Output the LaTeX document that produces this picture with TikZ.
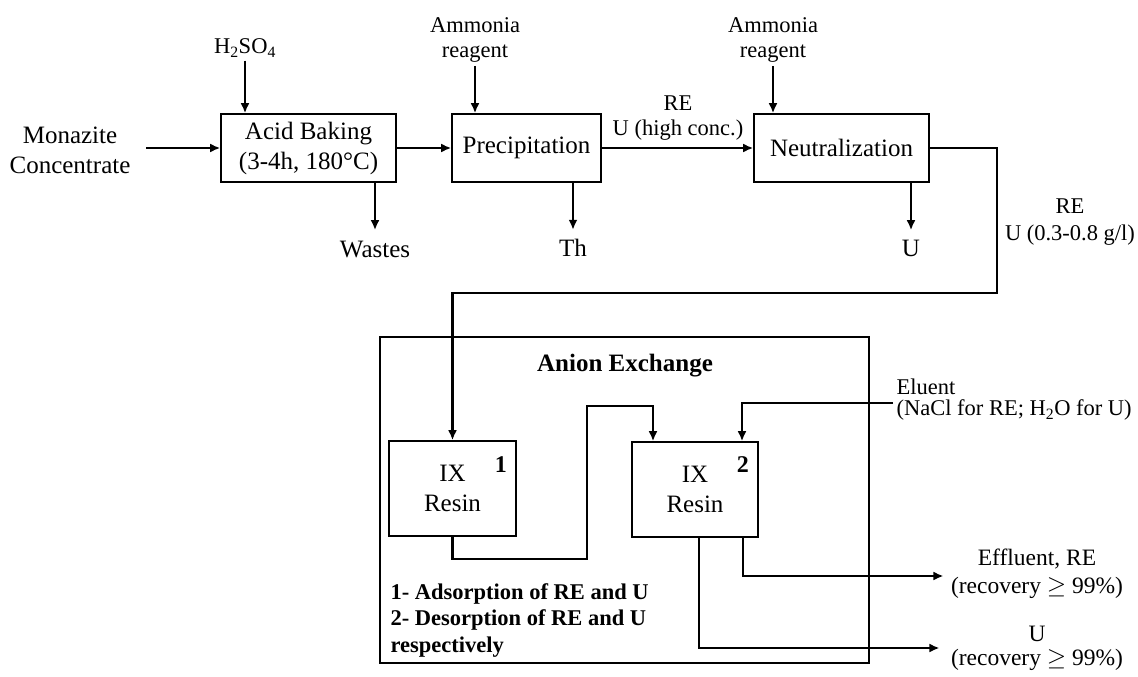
\documentclass[tikz,border=0pt]{standalone}
\usepackage{xcolor}
\usepackage{tikz}
\usepackage{fontspec}
\setmainfont{Liberation Serif}
\usetikzlibrary{shapes,arrows.meta,positioning,calc}

\begin{document}
\begin{tikzpicture}[x=1pt,y=-1pt,font=\fontsize{25}{30}\selectfont]
        % Define styles
        \tikzstyle{unit} = [rectangle, draw=black, line width=1.6pt, minimum height=68pt, text centered, align=center, inner sep=2pt]
        \tikzstyle{resin} = [rectangle, draw=black, line width=1.6pt, minimum width=126pt, minimum height=95pt, align=center]
        \tikzstyle{feed} = [align=center, font=\fontsize{22.5}{25}\selectfont]
        \tikzstyle{arrow} = [line width=2.1pt,-{Latex[length=10pt,width=9pt]}]

        \useasboundingbox (0,0) rectangle (1138,677);

        % Main line
        \node (acid) [unit, minimum width=175pt] at (308.5,148) {Acid Baking\\(3-4h, 180\textdegree C)};
        \node (prec) [unit, minimum width=149pt] at (526.5,148) {Precipitation};
        \node (neut) [unit, minimum width=175pt] at (841.5,148) {Neutralization};

        \node (monazite) [align=center] at (70,150) {Monazite\\Concentrate};
        \node (acidin) [feed] at (245,48) {H\textsubscript{2}SO\textsubscript{4}};
        \node (ammprec) [feed] at (475,40) {Ammonia\\reagent};
        \node (ammneut) [feed] at (773,40) {Ammonia\\reagent};
        \node (wastes) at (375,250) {Wastes};
        \node (th) at (573,248) {Th};
        \node (uneut) at (911,248) {U};
        \node (highconc) [feed] at (678,118) {RE\\U (high conc.)};
        \node (lowconc) [feed, font=\fontsize{22.5}{27}\selectfont] at (1070,222) {RE\\U (0.3-0.8 g/l)};

        \coordinate (monout) at (146,148);
        \draw[arrow] (monout) -- (acid.west);
        \draw[arrow] (acidin.south) -- (acidin |- acid.north);
        \draw[arrow] (ammprec.south) -- (ammprec |- prec.north);
        \draw[arrow] (ammneut.south) -- (ammneut |- neut.north);
        \draw[arrow] (wastes |- acid.south) -- ([yshift=8pt]wastes.north);
        \draw[arrow] (th |- prec.south) -- ([yshift=6pt]th.north);
        \draw[arrow] (uneut |- neut.south) -- ([yshift=6pt]uneut.north);
        \draw[arrow] (acid) -- (prec);
        \draw[arrow] (prec.east) -- (neut.west);

        % Anion exchange
        \node (anion) [rectangle, draw=black, line width=1.3pt, minimum width=489pt, minimum height=326pt] at (624.5,500) {};
        \node (aniontitle) [font=\fontsize{25}{30}\selectfont\bfseries] at (625,366) {Anion Exchange};
        \node (resin1) [resin, minimum width=127pt] at (452.5,488.5) {IX\\Resin};
        \node (resin2) [resin] at (695,489.5) {IX\\Resin};
        \node (tag1) [font=\fontsize{24}{28}\selectfont\bfseries] at ([xshift=-16pt,yshift=-24pt]resin1.north east) {1};
        \node (tag2) [font=\fontsize{24}{28}\selectfont\bfseries] at ([xshift=-16pt,yshift=-23pt]resin2.north east) {2};
        \node (legend) [anchor=north west, align=left, font=\fontsize{22.5}{26.5}\selectfont\bfseries] at (387,580) {1- Adsorption of RE and U\\2- Desorption of RE and U\\respectively};

        \node (eluent) [anchor=west, align=left, font=\fontsize{22.5}{21}\selectfont] at (893,400) {Eluent\\(NaCl for RE; H\textsubscript{2}O for U)};
        \node (effluent) [align=center, font=\fontsize{23.5}{28}\selectfont] at (1037,574) {Effluent, RE\\(recovery $\geq$ 99\%)};
        \node (uout) [align=center, font=\fontsize{23.5}{24}\selectfont] at (1037,648) {U\\(recovery $\geq$ 99\%)};

        \coordinate (turn) at (997,293);
        \coordinate (dip) at (587,559);
        \coordinate (hop) at (587,406);
        \coordinate (elu) at (893,403);

        \draw[arrow] (neut.east) -| (turn) -| (resin1.north);
        \draw[arrow] (resin1.south) |- (dip) -- (hop) -| ([xshift=-42pt]resin2.north);
        \draw[arrow] (elu) -| ([xshift=47pt]resin2.north);
        \draw[arrow] ([xshift=48pt]resin2.south) |- ([xshift=-4pt,yshift=-2pt]effluent.west);
        \draw[arrow] ([xshift=4pt]resin2.south) |- ([xshift=-8pt]uout.west);

    \end{tikzpicture}
\end{document}
